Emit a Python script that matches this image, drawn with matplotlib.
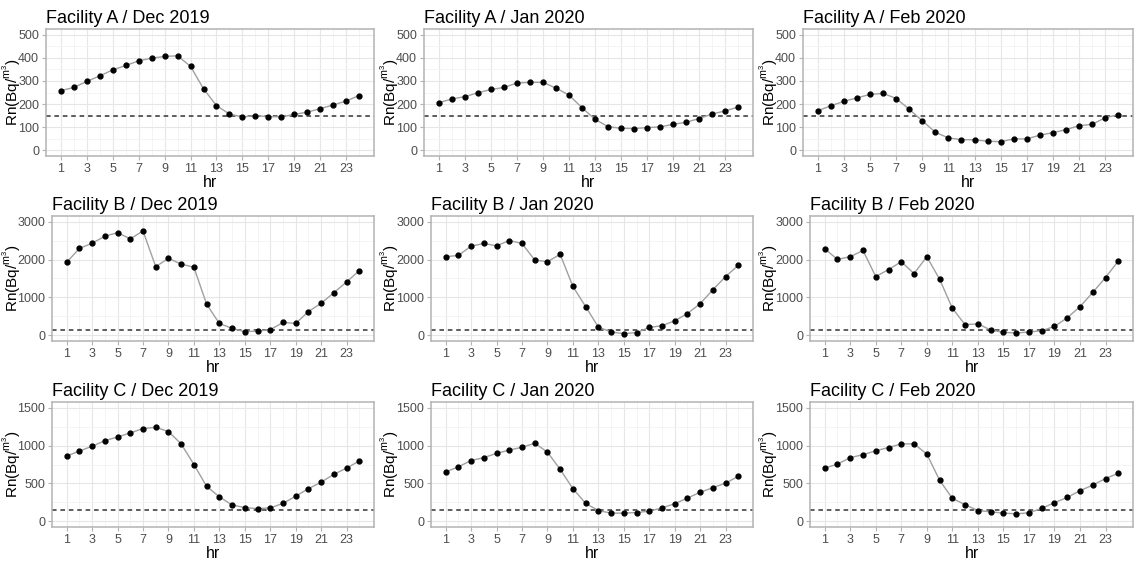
import matplotlib
matplotlib.use("Agg")
import matplotlib.pyplot as plt

hours = list(range(1, 25))
facilities = ["A", "B", "C"]
months = ["Dec 2019", "Jan 2020", "Feb 2020"]
threshold = 150

# Facility A
a_dec = [258, 272, 298, 322, 348, 367, 387, 399, 406, 409, 363, 266,
         193, 157, 144, 150, 145, 145, 155, 165, 180, 196, 213, 237]
a_jan = [206, 222, 232, 249, 263, 272, 291, 294, 294, 269, 239, 184,
         134, 102, 95, 94, 98, 101, 112, 121, 137, 157, 170, 187]
a_feb = [171, 193, 212, 227, 242, 246, 224, 177, 127, 78, 53, 46,
         45, 39, 37, 49, 49, 65, 76, 89, 106, 112, 140, 154]
# Facility B
b_dec = [1927, 2293, 2432, 2615, 2711, 2546, 2755, 1813, 2031, 1883, 1796, 820,
         314, 183, 96, 113, 148, 340, 314, 628, 846, 1125, 1412, 1709]
b_jan = [2075, 2110, 2354, 2424, 2363, 2502, 2424, 1988, 1944, 2136, 1290, 758,
         218, 87, 44, 70, 209, 253, 384, 575, 837, 1203, 1552, 1848]
b_feb = [2284, 2005, 2075, 2240, 1552, 1735, 1944, 1630, 2075, 1482, 715, 279,
         305, 139, 78, 61, 87, 122, 235, 462, 758, 1133, 1526, 1962]
# Facility C
c_dec = [862, 927, 991, 1065, 1112, 1168, 1224, 1241, 1185, 1022, 750, 461,
         323, 216, 181, 168, 177, 237, 332, 431, 517, 621, 703, 797]
c_jan = [651, 720, 802, 841, 897, 940, 978, 1030, 914, 685, 431, 237,
         142, 108, 108, 116, 134, 177, 233, 306, 384, 444, 504, 595]
c_feb = [703, 754, 841, 879, 931, 974, 1022, 1022, 888, 543, 302, 220,
         142, 125, 108, 99, 112, 172, 246, 315, 405, 478, 565, 634]

series = [[a_dec, a_jan, a_feb], [b_dec, b_jan, b_feb], [c_dec, c_jan, c_feb]]
y_max = [500, 3000, 1500]
y_step = [100, 1000, 500]

plt.rcParams['font.family'] = ['Liberation Sans', 'DejaVu Sans']
plt.rcParams['mathtext.fontset'] = 'custom'
plt.rcParams['mathtext.rm'] = 'Liberation Sans'

W, H = 1141, 561
fig = plt.figure(figsize=(W / 100, H / 100), dpi=100)

lefts = [[46, 424, 803], [52, 431, 810], [52, 431, 810]]
rights = [374, 753, 1133]
rows = [(29, 156), (216, 341), (402, 527)]
label_x = [12, 390, 769]

for r in range(3):
    top, bottom = rows[r]
    for c in range(3):
        l = lefts[r][c]
        w = rights[c] - l
        ax = fig.add_axes([l / W, 1 - bottom / H, w / W, (bottom - top) / H])
        ymax = y_max[r]
        pad = ymax * 0.05
        ax.set_ylim(-pad, ymax + pad)
        ax.set_xlim(1 - 1.15, 24 + 1.15)
        ax.set_xticks(range(1, 25, 2))
        ax.set_xticks(range(2, 25, 2), minor=True)
        ax.set_yticks(range(0, ymax + 1, y_step[r]))
        ax.set_yticks([y_step[r] / 2 + k * y_step[r] for k in range(int(ymax / y_step[r]))], minor=True)
        ax.grid(which='major', color='#e6e6e6', lw=0.8)
        ax.grid(which='minor', color='#f3f3f3', lw=0.6)
        ax.set_axisbelow(True)
        for s in ax.spines.values():
            s.set_color('#b3b3b3')
            s.set_linewidth(1.1)
        ax.tick_params(which='major', length=3, color='#b3b3b3', labelsize=9,
                       labelcolor='#4d4d4d', pad=2)
        ax.tick_params(which='minor', length=0)
        ax.axhline(threshold, color='#333333', lw=1.1, ls=(0, (3, 2.5)), zorder=2)
        ax.plot(hours, series[r][c], color='#a0a0a0', lw=1.0, zorder=3)
        ax.plot(hours, series[r][c], 'o', color='black', ms=3.5, zorder=4)
        ax.set_xlabel('hr', fontsize=11.5, labelpad=0)
        ax.set_ylabel(r'Rn(Bq/$^{\mathregular{m^3}}$)', fontsize=11, va='center')
        ax.yaxis.set_label_coords((label_x[c] - l) / w, 0.5)
        ax.set_title('Facility %s / %s' % (facilities[r], months[c]), loc='left',
                     fontsize=13, pad=4)

plt.savefig('out.png', dpi=100)
